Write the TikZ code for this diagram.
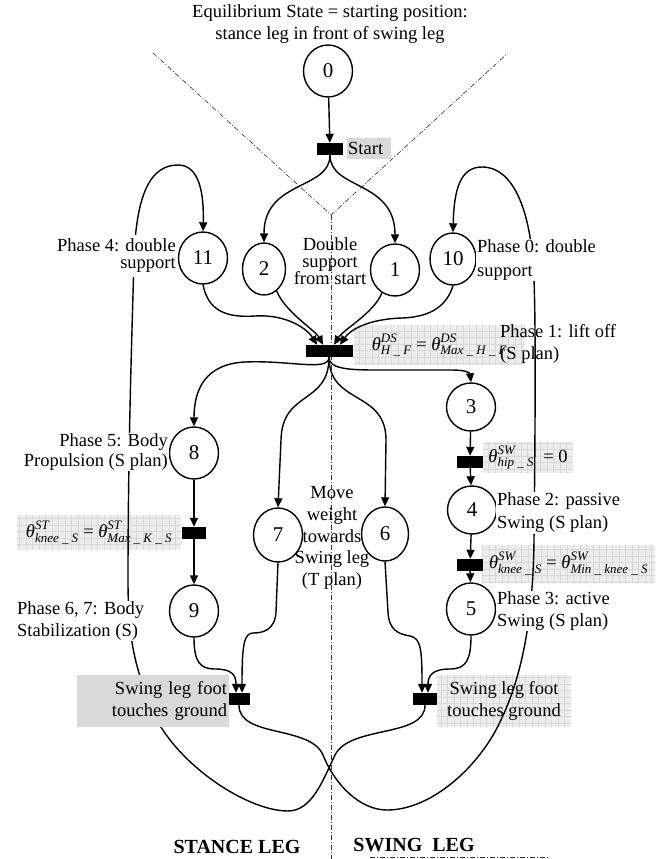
\documentclass[tikz,border=0pt]{standalone}
\usepackage{amsmath}
\usepackage{fontspec}
\setmainfont{Liberation Serif}
\usetikzlibrary{arrows.meta,shapes.geometric,calc}
\newcommand{\mi}[1]{\text{\itshape #1}}
\newcommand{\fs}[1]{\fontsize{18.5}{#1}\selectfont}
\begin{document}
\begin{tikzpicture}[x=1pt,y=-1pt,
  place/.style={ellipse,draw,line width=1.4pt,fill=white,inner sep=0pt,minimum width=49pt,minimum height=52pt,font=\fontsize{21}{24}\selectfont},
  bar/.style={rectangle,fill=black,inner sep=0pt,minimum width=26pt,minimum height=12pt},
  arc/.style={line width=1.4pt,-{Triangle[length=9pt,width=8pt]}},
  axis/.style={line width=0.6pt,dash pattern=on 5pt off 2pt on 1pt off 2pt,black!80},
  lbl/.style={inner sep=1pt,font=\fs{22}},
  gridbox/.style={rectangle,inner sep=1pt,fill=black!7,path picture={\draw[black!15,line width=0.3pt,step=6.5pt] (path picture bounding box.south west) grid (path picture bounding box.north east);}},
  graybox/.style={rectangle,inner sep=1pt,fill=black!15},
]
\useasboundingbox (0,0) rectangle (665,859);

% background grid boxes (lines pass over them)
\node[gridbox,minimum width=171pt,minimum height=40pt,font=\fs{22}] (gC) at (439.5,345)
  {$\mi{θ}^{\mi{DS}}_{\mi{H \_ F}}\text{ = }\mi{θ}^{\mi{DS}}_{\mi{Max \_ H \_ F}}$};
\node[gridbox,minimum width=90pt,minimum height=31pt,font=\fs{22}] (gH) at (528,457.5)
  {$\mi{θ}^{\mi{SW}}_{\mi{hip \_ S}}\text{ \ = 0}$};
\node[gridbox,minimum width=173pt,minimum height=37pt,font=\fs{22}] (gK) at (568.5,563.5)
  {$\mi{θ}^{\mi{SW}}_{\mi{knee \_ S}}\text{ = }\mi{θ}^{\mi{SW}}_{\mi{Min \_ knee \_ S}}$};
\node[gridbox,minimum width=164pt,minimum height=35pt,font=\fs{22}] (gL) at (99,532.5)
  {$\mi{θ}^{\mi{ST}}_{\mi{knee \_ S}}\text{ = }\mi{θ}^{\mi{ST}}_{\mi{Max \_ K \_ S}}$};
\node[gridbox,minimum width=134pt,minimum height=52pt,align=center,font=\fs{21.5}] (rsw) at (504,701)
  {Swing leg foot\\touches ground};

% axes
\coordinate (vtx) at (331,215);
\draw[axis] (153,53) -- (vtx) -- (508,53);
\draw[axis] (vtx) -- (331,859);
\draw[axis] (370,857) -- (550,857);

% places and transitions
\node[place] (n0) at (328,71) {0};
\node[bar] (bs) at (330,149) {};
\node[place] (n11) at (203,258) {11};
\node[place,minimum width=43pt] (n2) at (264,269) {2};
\node[place] (n1) at (395,270) {1};
\node[place,minimum width=46pt] (n10) at (453,259) {10};
\node[bar,minimum width=47pt] (bc) at (329,351) {};
\node[place,minimum height=48pt] (n3) at (471,407) {3};
\node[bar] (b34) at (470,462) {};
\node[place,minimum height=48pt] (n4) at (472,510) {4};
\node[bar] (b45) at (470,565) {};
\node[place] (n5) at (471,609) {5};
\node[place] (n8) at (194,453) {8};
\node[bar,minimum width=24pt] (b89) at (194,533) {};
\node[place] (n9) at (194,611) {9};
\node[place,minimum height=54pt] (n7) at (278,535) {7};
\node[place,minimum height=54pt,minimum width=47pt] (n6) at (385,534) {6};
\node[bar,minimum width=22pt] (bl) at (239,699) {};
\node[bar,minimum width=24pt] (br) at (425,699) {};

% connectors
\draw[arc] (n0) -- (bs);
\draw[arc] (bs.south) .. controls (330,190) and (264,180) .. (n2.north);
\draw[arc] (bs.south) .. controls (330,190) and (395,180) .. (n1.north);
\draw[arc] (n11.south) .. controls (208,310) and (225,318) .. (255,316) .. controls (288,314) and (308,330) .. ($(bc.north)+(-12,0)$);
\draw[arc] (n2.-60) .. controls (285,312) and (315,330) .. ($(bc.north)+(-6,0)$);
\draw[arc] (n1.-120) .. controls (375,312) and (343,330) .. ($(bc.north)+(5,0)$);
\draw[arc] (n10.south) .. controls (447,305) and (432,317) .. (402,318) .. controls (368,319) and (350,330) .. ($(bc.north)+(11,0)$);

\draw[arc] (bc.south) .. controls (329,372) and (290,360) .. (245,362) .. controls (205,364) and (194,390) .. (n8.north);
\draw[arc] (bc.south) .. controls (329,405) and (282,390) .. (281,440) -- (n7.north);
\draw[arc] (bc.south) .. controls (329,405) and (386,390) .. (386,440) -- (n6.north);
\draw[arc] (bc.south) .. controls (329,368) and (345,370) .. (375,370) -- (452,370) .. controls (466,370) and (470,373) .. (n3.north);

\draw[arc] (n8) -- (b89);
\draw[arc] (b89) -- (n9);
\draw[arc] (n9.south) .. controls (194,662) and (200,669) .. (215,669) .. controls (232,669) and (236,675) .. ($(bl.north)+(-3,0)$);
\draw[arc] (n7.south) -- (276,612) .. controls (275,630) and (263,633) .. (253,633) .. controls (244,633) and (242,645) .. ($(bl.north)+(3,0)$);

\draw[arc] (n3) -- (b34);
\draw[arc] (b34) -- (n4);
\draw[arc] (n4) -- (b45);
\draw[arc] (b45) -- (n5);
\draw[arc] (n6.south) -- (388,612) .. controls (389,630) and (398,634) .. (410,636) .. controls (421,638) and (422,650) .. ($(br.north)+(-3,0)$);
\draw[arc] (n5.south) .. controls (471,660) and (466,669) .. (450,669) .. controls (432,669) and (428,676) .. ($(br.north)+(3,0)$);

% long return curves
\draw[arc] (br.south) .. controls (425,738) and (350,725) .. (335,755) .. controls (323,780) and (312,811) .. (288,811)
  .. controls (245,811) and (170,760) .. (150,705) .. controls (135,665) and (128,640) .. (128,580)
  .. controls (128,450) and (132,330) .. (134,260) .. controls (136,195) and (150,165) .. (178,165)
  .. controls (200,165) and (204,195) .. (n11.north);
\draw[arc] (bl.south) .. controls (239,738) and (310,725) .. (323,755) .. controls (335,785) and (360,810) .. (387,810)
  .. controls (430,810) and (475,770) .. (497,728) .. controls (522,680) and (533,620) .. (534,540)
  .. controls (535,450) and (536,330) .. (534,280) .. controls (532,215) and (515,167) .. (482,167)
  .. controls (460,167) and (454,190) .. (n10.north);

% labels
\node[font=\fs{22},align=center] (title) at (330,24) {Equilibrium State = starting position:\\stance leg in front of swing leg};
\node[graybox,anchor=west,minimum height=21pt,text width=42pt,align=left,font=\fs{22}] (lstart) at (347,148) {Start};
\node[lbl,anchor=east,fill=white,inner ysep=4pt,align=right,font=\fs{17}] (lp4) at (177,256) {Phase 4: double\\support};
\node[lbl,align=center,font=\fs{17}] (lds) at (330,261) {Double\\support\\from start};
\node[lbl,anchor=west,fill=white,align=left,font=\fs{24}] (lp0) at (476,260) {Phase 0: double\\support};
\node[lbl,anchor=west,align=left,font=\fs{22}] (lp1) at (499,344) {Phase 1: lift off\\(S plan)};
\node[lbl,anchor=west,fill=white,align=left,font=\fs{23}] (lp2) at (496,513) {Phase 2: passive\\Swing (S plan)};
\node[lbl,anchor=west,fill=white,align=left,font=\fs{22}] (lp3) at (496,611) {Phase 3: active\\Swing (S plan)};
\node[lbl,anchor=east,fill=white,align=right,font=\fs{20}] (lp5) at (169,452) {Phase 5: Body\\Propulsion (S plan)};
\node[lbl,anchor=west,fill=white,align=left,font=\fs{22}] (lp67) at (16,621) {Phase 6, 7: Body\\Stabilization (S)};
\node[lbl,align=center,font=\fs{21.7}] (lmw) at (332,538) {Move\\weight\\towards\\Swing leg\\(T plan)};
\node[graybox,minimum width=152pt,minimum height=52pt,text width=148pt,align=right,font=\fs{21.5}] (lsw) at (153,701) {Swing leg foot\\touches ground};
\node[font=\bfseries\fontsize{20}{24}\selectfont] (lst) at (237,847) {STANCE LEG};
\node[font=\bfseries\fontsize{20}{24}\selectfont] (lsg) at (414,845) {SWING\ \ LEG};
\end{tikzpicture}
\end{document}
